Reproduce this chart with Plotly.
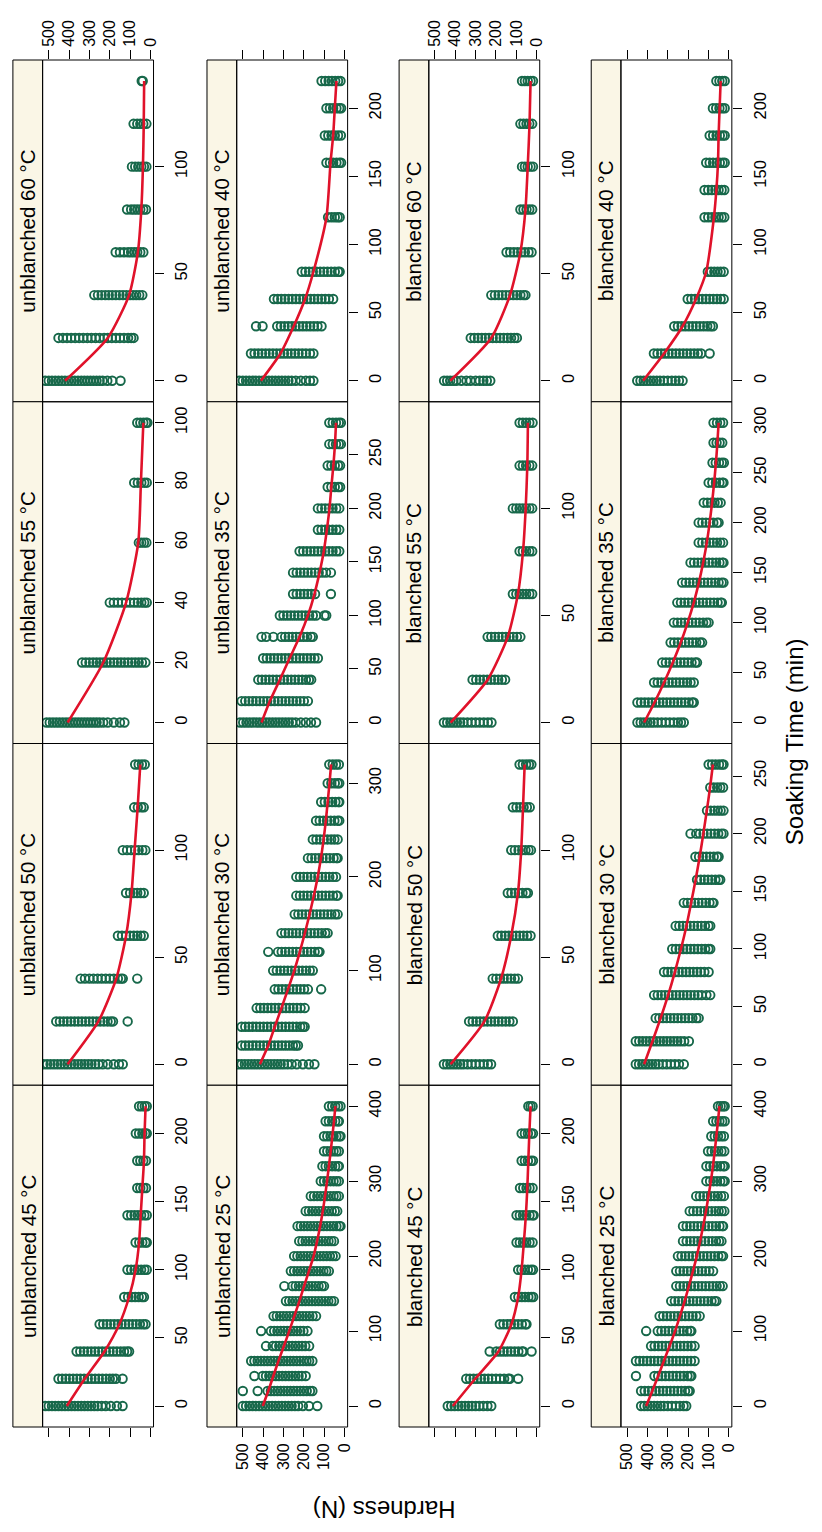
import plotly.graph_objects as go

W, H = 822, 1532
FONT = "Liberation Sans, Arial, Helvetica, sans-serif"
GREEN = "#17684a"
RED = "#e0122a"
STRIP_FILL = "#faf6e6"

# ---------------- data (hardness in N, time in min) ----------------
ub60_t = [0, 20, 40, 60, 80, 100, 120, 140]
ub60_h = [
    [516, 500, 484, 468, 452, 436, 420, 404, 388, 372, 356, 340, 325, 310, 295, 280, 265, 250, 235, 212, 188, 147],
    [452, 430, 410, 390, 370, 350, 330, 310, 290, 270, 250, 228, 210, 190, 170, 150, 130, 110, 95, 83],
    [276, 258, 240, 222, 205, 188, 170, 152, 135, 118, 100, 85, 70, 55, 40],
    [171, 150, 130, 110, 95, 80, 65, 50, 35],
    [115, 95, 80, 65, 50, 35, 22],
    [91, 75, 60, 45, 32, 20],
    [83, 65, 50, 35, 20],
    [43, 38],
]
ub60_fit = [420, 210, 105, 62, 45, 37, 33, 31]

ub55_t = [0, 20, 40, 60, 80, 100]
ub55_h = [
    [511, 495, 479, 463, 447, 431, 415, 400, 385, 370, 355, 340, 325, 310, 295, 280, 265, 250, 232, 210, 180, 150, 128],
    [336, 318, 300, 282, 265, 248, 232, 215, 198, 180, 162, 145, 128, 110, 92, 75, 58, 42, 25],
    [200, 180, 160, 140, 120, 100, 80, 62, 45, 30, 18],
    [57, 45, 32, 20],
    [80, 62, 45, 30, 18],
    [65, 50, 35, 22, 15],
]
ub55_fit = [407, 232, 120, 60, 47, 35]

ub50_t = [0, 20, 40, 60, 80, 100, 120, 140]
ub50_h = [
    [525, 508, 491, 474, 457, 440, 423, 407, 390, 373, 356, 340, 323, 306, 290, 272, 255, 235, 210, 180, 155, 136],
    [463, 445, 427, 409, 391, 373, 355, 337, 319, 301, 283, 265, 247, 229, 211, 195, 184, 112],
    [343, 322, 300, 280, 260, 240, 220, 200, 180, 160, 145, 136, 65],
    [160, 140, 120, 100, 82, 65, 48, 33],
    [120, 100, 82, 65, 48, 33],
    [136, 115, 95, 75, 58, 40, 25],
    [80, 62, 45, 33],
    [75, 58, 42, 28],
]
ub50_fit = [407, 256, 168, 120, 93, 78, 63, 50]

ub45_t = [0, 20, 40, 60, 80, 100, 120, 140, 160, 180, 200, 220]
ub45_h = [
    [516, 500, 484, 468, 452, 436, 420, 404, 388, 372, 356, 340, 324, 308, 292, 276, 260, 240, 220, 195, 165, 137],
    [452, 434, 416, 398, 380, 362, 344, 326, 308, 290, 272, 254, 236, 218, 200, 185, 170, 137],
    [363, 345, 327, 309, 291, 273, 255, 237, 219, 201, 183, 165, 147, 130, 115, 105],
    [250, 232, 214, 196, 178, 160, 142, 124, 106, 88, 70, 52, 36, 24],
    [129, 110, 92, 75, 58, 42, 32],
    [113, 95, 78, 62, 46, 30, 18],
    [73, 55, 40, 25, 18],
    [113, 95, 78, 62, 46, 30, 18],
    [65, 50, 35, 22],
    [65, 50, 35, 22],
    [72, 56, 40, 26, 18],
    [56, 42, 28, 18],
]
ub45_fit = [411, 323, 226, 153, 105, 73, 56, 48, 40, 32, 29, 24]

ub40_t = [0, 20, 40, 60, 80, 120, 160, 180, 200, 220]
ub40_h = [
    [516, 500, 484, 468, 452, 436, 420, 404, 388, 372, 356, 340, 324, 308, 292, 276, 260, 240, 215, 190, 170, 153],
    [460, 442, 424, 406, 388, 370, 352, 334, 316, 298, 280, 262, 244, 226, 208, 190, 170, 153],
    [435, 403, 331, 313, 295, 277, 259, 241, 223, 205, 187, 169, 151, 133, 113],
    [347, 329, 311, 293, 275, 257, 239, 221, 203, 185, 167, 149, 131, 113, 95, 77, 56],
    [210, 192, 174, 156, 138, 120, 102, 84, 66, 48, 32, 24],
    [81, 64, 48, 34, 24],
    [89, 72, 56, 40, 26, 17],
    [97, 80, 64, 48, 32, 18],
    [89, 72, 56, 40, 26, 17],
    [113, 95, 78, 62, 46, 32, 20],
]
ub40_fit = [411, 315, 250, 194, 153, 89, 69, 56, 48, 40]

ub35_t = [0, 20, 40, 60, 80, 100, 120, 140, 160, 180, 200, 220, 240, 260, 280]
ub35_h = [
    [514, 498, 482, 466, 450, 434, 418, 402, 386, 370, 354, 338, 322, 306, 290, 274, 258, 240, 215, 190, 165, 140],
    [506, 488, 470, 452, 434, 416, 398, 380, 362, 344, 326, 308, 290, 272, 254, 236, 218, 200, 180],
    [424, 406, 388, 370, 352, 334, 316, 298, 280, 262, 244, 226, 208, 190, 175, 164],
    [400, 382, 364, 346, 328, 310, 292, 274, 256, 238, 220, 202, 184, 166, 148, 131],
    [408, 385, 350, 310, 292, 274, 256, 238, 220, 202, 184, 166, 156],
    [318, 300, 282, 264, 246, 228, 210, 192, 174, 156, 140, 99, 90],
    [253, 235, 217, 199, 181, 163, 145, 67],
    [253, 235, 217, 199, 181, 163, 145, 127, 109, 91, 67],
    [221, 203, 185, 167, 149, 131, 113, 95, 77, 59, 41, 26],
    [131, 113, 95, 77, 59, 41, 26],
    [131, 113, 95, 77, 59, 41, 26],
    [83, 65, 48, 32, 22],
    [83, 65, 48, 32, 22],
    [75, 58, 42, 28, 18],
    [75, 58, 42, 28, 18],
]
ub35_fit = [408, 367, 318, 270, 221, 180, 148, 123, 102, 87, 74, 65, 55, 47, 42]

ub30_t = [0, 20, 40, 60, 80, 100, 120, 140, 160, 180, 200, 220, 240, 260, 280, 300, 320]
ub30_h = [
    [522, 506, 490, 474, 458, 442, 426, 410, 394, 378, 362, 346, 330, 314, 298, 280, 260, 235, 205, 175, 148],
    [506, 488, 470, 452, 434, 416, 398, 380, 362, 344, 326, 308, 290, 272, 254, 240, 229],
    [506, 488, 470, 452, 434, 416, 398, 380, 362, 344, 326, 308, 290, 272, 254, 236, 218, 205, 196],
    [432, 414, 396, 378, 360, 342, 324, 306, 288, 270, 252, 234, 216, 196],
    [343, 325, 307, 289, 271, 253, 235, 217, 199, 180, 115],
    [351, 333, 315, 297, 279, 261, 243, 225, 207, 189, 171, 156],
    [375, 327, 309, 291, 273, 255, 237, 219, 201, 183, 165, 147, 130, 123],
    [310, 292, 274, 256, 238, 220, 202, 184, 166, 148, 130, 112, 95, 83],
    [245, 227, 209, 191, 173, 155, 137, 119, 101, 83, 65, 47, 34],
    [237, 219, 201, 183, 165, 147, 129, 111, 93, 75, 57, 40, 34],
    [237, 219, 201, 183, 165, 147, 129, 111, 93, 75, 57, 42],
    [180, 162, 144, 126, 108, 90, 72, 54, 40, 34],
    [156, 138, 120, 102, 84, 66, 50, 34],
    [140, 122, 104, 86, 68, 50, 34, 26],
    [115, 97, 79, 61, 45, 30, 26],
    [83, 65, 48, 34, 26],
    [75, 58, 42, 28],
]
ub30_fit = [416, 375, 343, 310, 278, 247, 220, 195, 172, 151, 132, 116, 103, 92, 83, 74, 66]

ub25_t = [0, 20, 40, 60, 80, 100, 120, 140, 160, 180, 200, 220, 240, 260, 280, 300, 320, 340, 360, 380, 400]
ub25_h = [
    [500, 484, 468, 452, 436, 420, 404, 388, 372, 356, 340, 324, 308, 292, 276, 260, 244, 228, 205, 175, 134],
    [500, 427, 378, 362, 346, 330, 314, 298, 282, 266, 250, 234, 218, 202, 186, 170, 158],
    [443, 402, 386, 370, 354, 338, 322, 306, 290, 274, 258, 242, 226, 210, 191],
    [459, 443, 427, 411, 395, 379, 363, 347, 331, 315, 299, 283, 267, 251, 235, 219, 203, 187, 174, 158],
    [386, 353, 337, 321, 305, 289, 273, 257, 241, 225, 209, 193, 174],
    [410, 362, 346, 330, 314, 298, 282, 266, 250, 234, 218, 202, 182],
    [349, 333, 317, 301, 285, 269, 253, 237, 221, 205, 189, 173, 157, 140],
    [288, 272, 256, 240, 224, 208, 192, 176, 160, 144, 128, 112, 96, 80, 65, 52],
    [296, 256, 240, 224, 208, 192, 176, 160, 144, 128, 112, 101],
    [264, 248, 232, 216, 200, 184, 168, 152, 136, 120, 104, 90, 77],
    [248, 232, 216, 200, 184, 168, 152, 136, 120, 104, 88, 72, 58, 44],
    [223, 207, 191, 175, 159, 143, 127, 111, 95, 79, 65, 52],
    [231, 215, 199, 183, 167, 151, 135, 119, 103, 87, 71, 55, 40, 26, 20],
    [191, 175, 159, 143, 127, 111, 95, 79, 63, 48, 36],
    [166, 150, 134, 118, 102, 86, 70, 54, 40, 28],
    [117, 101, 85, 69, 54, 40, 28],
    [109, 93, 77, 61, 46, 32, 28],
    [101, 85, 69, 54, 40, 28],
    [101, 85, 69, 54, 40, 26, 20],
    [93, 77, 61, 46, 32, 28],
    [77, 61, 46, 32, 20],
]
ub25_fit = [402, 375, 350, 325, 298, 272, 247, 222, 199, 175, 152, 135, 120, 107, 96, 86, 77, 68, 60, 52, 45]

b60_t = [0, 20, 40, 60, 80, 100, 120, 140]
b60_h = [
    [455, 440, 425, 410, 395, 370, 345, 325, 300, 280, 262, 245, 228],
    [324, 306, 288, 270, 252, 234, 216, 198, 180, 162, 144, 126, 110, 97],
    [223, 205, 187, 169, 151, 133, 115, 97, 80, 65, 55],
    [148, 130, 112, 94, 76, 58, 40, 25],
    [80, 65, 50, 36, 22],
    [72, 58, 44, 30, 18],
    [80, 65, 50, 36, 22],
    [72, 58, 44, 30, 18],
]
b60_fit = [425, 223, 131, 80, 55, 44, 35, 30]

b55_t = [0, 20, 40, 60, 80, 100, 120, 140]
b55_h = [
    [456, 440, 424, 408, 392, 376, 360, 340, 320, 300, 280, 260, 240, 222],
    [315, 297, 279, 261, 243, 225, 207, 189, 171, 155],
    [241, 223, 205, 187, 169, 151, 133, 115, 97, 80],
    [117, 100, 84, 68, 52, 36, 22],
    [84, 68, 52, 36, 22],
    [117, 100, 84, 68, 52, 36, 22],
    [84, 68, 52, 36, 22],
    [84, 68, 52, 36, 20],
]
b55_fit = [423, 241, 142, 92, 67, 54, 46, 43]

b50_t = [0, 20, 40, 60, 80, 100, 120, 140]
b50_h = [
    [456, 440, 424, 408, 392, 376, 360, 340, 320, 300, 280, 260, 240, 224],
    [332, 314, 296, 278, 260, 242, 224, 206, 188, 170, 152, 134, 117],
    [216, 198, 180, 162, 144, 126, 108, 92],
    [191, 173, 155, 137, 119, 101, 83, 65, 47, 30],
    [142, 124, 106, 88, 70, 52, 43],
    [125, 107, 89, 71, 55, 40, 28],
    [117, 99, 81, 64, 48, 34],
    [84, 68, 52, 38, 26],
]
b50_fit = [423, 257, 175, 125, 92, 76, 67, 59]

b45_t = [0, 20, 40, 60, 80, 100, 120, 140, 160, 180, 200, 220]
b45_h = [
    [437, 420, 403, 386, 369, 352, 335, 318, 300, 282, 262, 242, 223],
    [346, 328, 310, 292, 274, 256, 238, 220, 200, 180, 160, 140, 132, 91],
    [231, 198, 180, 162, 144, 126, 108, 90, 72, 66, 25],
    [181, 163, 145, 127, 109, 91, 73, 55, 50],
    [107, 90, 73, 57, 41, 27, 17],
    [91, 75, 59, 43, 28, 18],
    [99, 83, 67, 51, 35, 20],
    [99, 83, 67, 51, 35, 20, 15],
    [82, 66, 50, 35, 20],
    [74, 58, 43, 28, 18],
    [74, 58, 43, 28, 18],
    [41, 30, 20],
]
b45_fit = [412, 302, 188, 124, 91, 74, 63, 53, 46, 41, 36, 30]

b40_t = [0, 20, 40, 60, 80, 120, 140, 160, 180, 200, 220]
b40_h = [
    [450, 434, 418, 402, 386, 370, 354, 338, 320, 300, 280, 262, 245, 227],
    [368, 350, 332, 314, 296, 278, 260, 242, 224, 206, 188, 170, 152, 136, 94],
    [268, 250, 232, 214, 196, 178, 160, 142, 124, 106, 90, 78],
    [202, 184, 166, 148, 130, 112, 94, 76, 58, 40, 25],
    [103, 87, 71, 55, 40, 25],
    [119, 101, 83, 66, 50, 35, 22],
    [119, 101, 83, 66, 50, 35, 22],
    [111, 94, 77, 60, 44, 30, 20],
    [94, 77, 60, 44, 30, 20],
    [78, 62, 46, 32, 20],
    [61, 46, 32, 20],
]
b40_fit = [421, 318, 227, 161, 111, 73, 61, 53, 50, 45, 40]

b35_t = [0, 20, 40, 60, 80, 100, 120, 140, 160, 180, 200, 220, 240, 260, 280, 300]
b35_h = [
    [449, 433, 417, 401, 385, 369, 350, 330, 310, 290, 270, 250, 235, 221],
    [449, 431, 413, 395, 377, 359, 341, 323, 305, 287, 269, 251, 233, 215, 197, 180, 172],
    [367, 349, 331, 313, 295, 277, 259, 241, 223, 205, 188, 172],
    [327, 309, 291, 273, 255, 237, 219, 201, 183, 165, 156],
    [286, 268, 250, 232, 214, 196, 178, 160, 142, 131],
    [270, 252, 234, 216, 198, 180, 162, 144, 126, 110, 99],
    [253, 235, 217, 199, 181, 163, 145, 127, 109, 91, 73, 55, 40, 34],
    [229, 211, 193, 175, 157, 139, 121, 103, 85, 67, 50, 35, 26],
    [188, 170, 152, 134, 116, 98, 80, 62, 46, 32, 26],
    [148, 130, 112, 94, 76, 58, 42, 28],
    [148, 130, 112, 94, 76, 58, 50],
    [123, 105, 87, 70, 54, 40],
    [99, 81, 63, 46, 32, 26],
    [80, 64, 48, 34, 24],
    [75, 60, 45, 32],
    [75, 58, 42, 28],
]
b35_fit = [416, 365, 318, 275, 236, 202, 172, 147, 126, 108, 94, 82, 72, 63, 56, 50]

b30_t = [0, 20, 40, 60, 80, 100, 120, 140, 160, 180, 200, 220, 240, 260]
b30_h = [
    [457, 441, 425, 409, 393, 377, 361, 345, 325, 305, 285, 265, 245, 221],
    [457, 440, 423, 406, 389, 372, 355, 338, 321, 304, 287, 270, 253, 236, 219, 196],
    [359, 341, 323, 305, 287, 269, 251, 233, 215, 197, 179, 160, 148],
    [367, 349, 331, 313, 295, 277, 259, 241, 223, 205, 187, 169, 151, 133, 110, 91],
    [318, 300, 282, 264, 246, 228, 210, 192, 174, 156, 138, 120, 99],
    [278, 260, 242, 224, 206, 188, 170, 152, 134, 116, 100, 91],
    [261, 243, 225, 207, 189, 171, 153, 135, 117, 100, 91],
    [221, 203, 185, 167, 149, 131, 113, 95, 80, 75],
    [156, 138, 120, 102, 84, 66, 50, 42],
    [164, 146, 128, 110, 92, 74, 58, 50],
    [188, 160, 142, 124, 106, 88, 70, 52, 36, 26],
    [107, 89, 71, 54, 40, 26],
    [91, 74, 57, 42, 28],
    [99, 82, 65, 48, 34, 26],
]
b30_fit = [416, 375, 335, 298, 265, 235, 208, 185, 163, 143, 125, 108, 92, 78]

b25_t = [0, 20, 40, 60, 80, 100, 120, 140, 160, 180, 200, 220, 240, 260, 280, 300, 320, 340, 360, 380, 400]
b25_h = [
    [431, 415, 399, 383, 367, 351, 335, 319, 300, 280, 260, 240, 222, 209],
    [431, 413, 395, 377, 359, 341, 323, 305, 287, 269, 251, 233, 215, 200, 192],
    [456, 365, 347, 329, 311, 293, 275, 257, 239, 221, 203, 190, 184],
    [456, 438, 420, 402, 384, 366, 348, 330, 312, 294, 276, 258, 240, 222, 204, 186, 168],
    [382, 364, 346, 328, 310, 292, 274, 256, 238, 220, 202, 184, 168],
    [406, 349, 331, 313, 295, 277, 259, 241, 223, 205, 190, 184],
    [340, 322, 304, 286, 268, 250, 232, 214, 196, 178, 160, 143],
    [283, 265, 247, 229, 211, 193, 175, 157, 139, 121, 103, 85, 70, 61],
    [258, 240, 222, 204, 186, 168, 150, 132, 114, 96, 78, 60, 44, 30],
    [258, 240, 222, 204, 186, 168, 150, 132, 114, 96, 77],
    [250, 232, 214, 196, 178, 160, 142, 124, 106, 88, 70, 52, 36, 28],
    [225, 207, 189, 171, 153, 135, 117, 99, 81, 63, 48, 36],
    [225, 207, 189, 171, 153, 135, 117, 99, 81, 63, 46, 32, 28],
    [192, 174, 156, 138, 120, 102, 84, 66, 50, 35, 22],
    [160, 142, 124, 106, 88, 70, 54, 38, 24],
    [110, 92, 75, 58, 42, 28, 20],
    [110, 92, 75, 58, 42, 28, 20],
    [102, 85, 68, 52, 36, 22],
    [86, 69, 53, 38, 24],
    [77, 61, 46, 32, 20],
    [53, 40, 28, 20],
]
b25_fit = [406, 376, 347, 319, 291, 264, 240, 217, 196, 176, 157, 141, 126, 112, 100, 88, 78, 69, 61, 53, 46]

hardness_ticks = [0, 100, 200, 300, 400, 500]

# panel grid: columns of the (rotated) page, each listed from top to bottom
grid = [
    [("unblanched 60 °C", ub60_t, ub60_h, ub60_fit, 50),
     ("unblanched 55 °C", ub55_t, ub55_h, ub55_fit, 20),
     ("unblanched 50 °C", ub50_t, ub50_h, ub50_fit, 50),
     ("unblanched 45 °C", ub45_t, ub45_h, ub45_fit, 50)],
    [("unblanched 40 °C", ub40_t, ub40_h, ub40_fit, 50),
     ("unblanched 35 °C", ub35_t, ub35_h, ub35_fit, 50),
     ("unblanched 30 °C", ub30_t, ub30_h, ub30_fit, 100),
     ("unblanched 25 °C", ub25_t, ub25_h, ub25_fit, 100)],
    [("blanched 60 °C", b60_t, b60_h, b60_fit, 50),
     ("blanched 55 °C", b55_t, b55_h, b55_fit, 50),
     ("blanched 50 °C", b50_t, b50_h, b50_fit, 50),
     ("blanched 45 °C", b45_t, b45_h, b45_fit, 50)],
    [("blanched 40 °C", b40_t, b40_h, b40_fit, 50),
     ("blanched 35 °C", b35_t, b35_h, b35_fit, 50),
     ("blanched 30 °C", b30_t, b30_h, b30_fit, 50),
     ("blanched 25 °C", b25_t, b25_h, b25_fit, 100)],
]

# ---------------- layout geometry (pixels) ----------------
col_plot_x0 = [40, 236, 430, 624]
PLOT_W = 112
STRIP_W = 30
row_y = [60, 401.75, 743.5, 1085.25, 1427]
HARD_RANGE = [530, -15]

fig = go.Figure()
shapes = []
annotations = []
layout = {}

k = 0
for c in range(4):
    for r in range(4):
        k += 1
        label, times, hard, fit, dtick = grid[c][r]
        xs = [v for grp in hard for v in grp]
        ys = [t for t, grp in zip(times, hard) for _ in grp]
        xa = "x" if k == 1 else f"x{k}"
        ya = "y" if k == 1 else f"y{k}"
        fig.add_trace(go.Scatter(
            x=xs, y=ys, mode="markers", xaxis=xa, yaxis=ya,
            marker=dict(symbol="circle-open", size=8.5, color=GREEN,
                        line=dict(width=1.9, color=GREEN)),
            showlegend=False, hoverinfo="skip"))
        fig.add_trace(go.Scatter(
            x=fit, y=times, mode="lines", xaxis=xa, yaxis=ya,
            line=dict(color=RED, width=2.6, shape="spline", smoothing=0.6),
            showlegend=False, hoverinfo="skip"))

        px0 = col_plot_x0[c]
        px1 = px0 + PLOT_W
        py0, py1 = row_y[r], row_y[r + 1]
        xdom = [px0 / W, px1 / W]
        ydom = [1 - py1 / H, 1 - py0 / H]
        tmin, tmax = min(times), max(times)
        pad = 0.07 * (tmax - tmin)

        xaxis = dict(domain=xdom, anchor=ya, range=HARD_RANGE,
                     tickmode="array", tickvals=hardness_ticks,
                     ticktext=[str(v) for v in hardness_ticks],
                     tickangle=-90, ticklen=9, tickwidth=1, tickcolor="black",
                     showgrid=False, zeroline=False, showline=False,
                     tickfont=dict(family=FONT, size=16, color="black"))
        if r == 0:
            xaxis.update(side="top", ticks="outside", showticklabels=(c in (0, 2)))
        elif r == 3:
            xaxis.update(side="bottom", ticks="outside", showticklabels=(c in (1, 3)))
        else:
            xaxis.update(ticks="", showticklabels=False)

        yaxis = dict(domain=ydom, anchor=xa, side="right",
                     range=[tmin - pad, tmax + pad],
                     tickmode="linear", tick0=0, dtick=dtick,
                     ticks="outside", ticklen=9, tickwidth=1, tickcolor="black",
                     tickangle=-90, ticklabelstandoff=4,
                     showgrid=False, zeroline=False, showline=False,
                     tickfont=dict(family=FONT, size=16.5, color="black"))

        layout["xaxis" if k == 1 else f"xaxis{k}"] = xaxis
        layout["yaxis" if k == 1 else f"yaxis{k}"] = yaxis

        # strip and panel borders
        shapes.append(dict(type="rect", xref="paper", yref="paper",
                           x0=(px0 - STRIP_W) / W, x1=px0 / W,
                           y0=ydom[0], y1=ydom[1],
                           fillcolor=STRIP_FILL, line=dict(color="black", width=1),
                           layer="below"))
        shapes.append(dict(type="rect", xref="paper", yref="paper",
                           x0=xdom[0], x1=xdom[1], y0=ydom[0], y1=ydom[1],
                           line=dict(color="black", width=1), layer="above"))
        annotations.append(dict(text=label, xref="paper", yref="paper",
                                x=(px0 - STRIP_W / 2) / W, y=(ydom[0] + ydom[1]) / 2,
                                textangle=-90, showarrow=False,
                                xanchor="center", yanchor="middle",
                                font=dict(family=FONT, size=20.5, color="black")))

annotations.append(dict(text="Soaking Time (min)", xref="paper", yref="paper",
                        x=800 / W, y=1 - 742 / H, textangle=-90, showarrow=False,
                        xanchor="center", yanchor="middle",
                        font=dict(family=FONT, size=24, color="black")))
annotations.append(dict(text="Hardness (N)", xref="paper", yref="paper",
                        x=385 / W, y=1 - 1510 / H, textangle=180, showarrow=False,
                        xanchor="center", yanchor="middle",
                        font=dict(family=FONT, size=24, color="black")))

fig.update_layout(
    width=W, height=H,
    margin=dict(l=0, r=0, t=0, b=0),
    paper_bgcolor="white", plot_bgcolor="white",
    shapes=shapes, annotations=annotations,
    showlegend=False,
    **layout,
)

fig.write_html("out.html")
